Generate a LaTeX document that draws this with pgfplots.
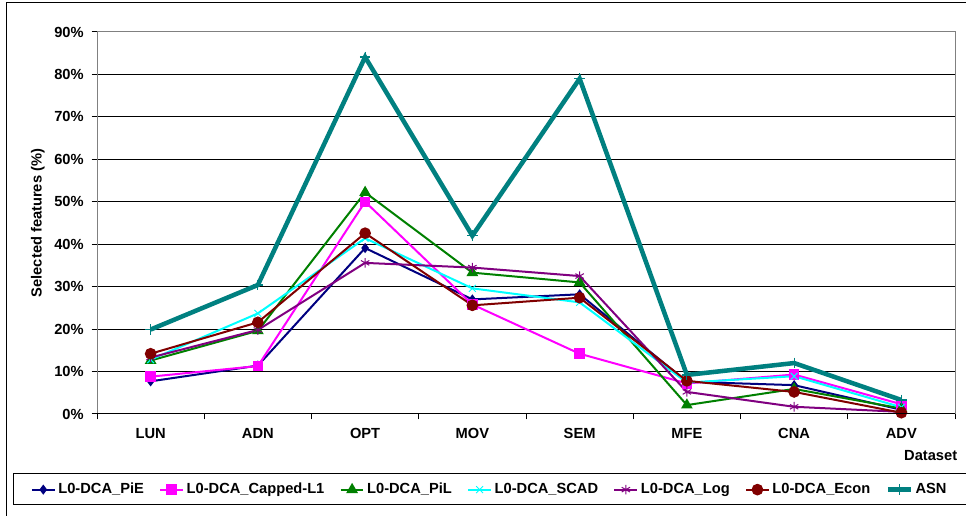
\documentclass[border=0pt]{standalone}
\usepackage{fontspec}
\setmainfont{Liberation Sans}
\usepackage{pgfplots}
\pgfplotsset{compat=1.18}
\definecolor{cPiE}{RGB}{0,0,128}
\definecolor{cCap}{RGB}{255,0,255}
\definecolor{cPiL}{RGB}{0,128,0}
\definecolor{cSCAD}{RGB}{0,255,255}
\definecolor{cLog}{RGB}{128,0,128}
\definecolor{cEcon}{RGB}{128,0,0}
\definecolor{cASN}{RGB}{0,128,128}

\begin{document}
\begin{tikzpicture}[font=\fontsize{11}{13}\selectfont\bfseries]
  \begin{axis}[
    at={(0,0)}, anchor=south west,
    scale only axis, width=643.5pt, height=286.5pt,
    xmin=0, xmax=8, ymin=0, ymax=90,
    xtick={0,...,8}, x tick label as interval,
    xticklabels={LUN,ADN,OPT,MOV,SEM,MFE,CNA,ADV},
    xticklabel style={yshift=-3.5pt},
    ytick={0,10,...,90},
    yticklabel={\pgfmathprintnumber[assume math mode=true]{\tick}\%},
    yticklabel style={xshift=-2.5pt},
    xtick pos=bottom, ytick pos=left,
    tick align=outside, major tick length=4pt,
    tick style={black, line width=0.75pt},
    axis line style={gray, line width=0.75pt},
    ymajorgrids, grid style={black, line width=0.75pt},
    ylabel={Selected features (\%)},
    ylabel style={at={(axis description cs:-0.069,0.5)}, anchor=center},
    xlabel={Dataset},
    xlabel style={at={(axis description cs:1.008,-0.108)}, anchor=east},
    legend columns=7,
    legend style={at={(axis description cs:-0.082,-0.198)}, anchor=west,
      draw=none, fill=none,
      /tikz/every even column/.append style={column sep=9.5pt}},
    every axis plot/.append style={line width=1.5pt},
  ]
  \addplot[cPiE, mark=diamond*, mark size=2.6pt] coordinates {
    (0.5,7.7)(1.5,11.4)(2.5,39.1)(3.5,27.0)(4.5,28.2)(5.5,7.6)(6.5,6.8)(7.5,1.0)};
  \addlegendentry{L0-DCA\_PiE}
  \addplot[cCap, mark=square*, mark size=3.2pt] coordinates {
    (0.5,8.8)(1.5,11.3)(2.5,50.0)(3.5,25.8)(4.5,14.2)(5.5,7.2)(6.5,9.3)(7.5,2.3)};
  \addlegendentry{L0-DCA\_Capped-L1}
  \addplot[cPiL, mark=triangle*, mark size=3.6pt] coordinates {
    (0.5,12.6)(1.5,19.6)(2.5,52.2)(3.5,33.3)(4.5,31.0)(5.5,2.1)(6.5,5.9)(7.5,1.3)};
  \addlegendentry{L0-DCA\_PiL}
  \addplot[cSCAD, mark=x, mark size=3.6pt, mark options={line width=0.75pt}] coordinates {
    (0.5,12.8)(1.5,23.7)(2.5,41.4)(3.5,29.6)(4.5,26.3)(5.5,7.4)(6.5,8.9)(7.5,1.6)};
  \addlegendentry{L0-DCA\_SCAD}
  \addplot[cLog, mark=asterisk, mark size=3.6pt, mark options={line width=0.75pt}] coordinates {
    (0.5,13.3)(1.5,19.8)(2.5,35.6)(3.5,34.5)(4.5,32.5)(5.5,5.2)(6.5,1.7)(7.5,0.5)};
  \addlegendentry{L0-DCA\_Log}
  \addplot[cEcon, mark=*, mark size=3.6pt] coordinates {
    (0.5,14.2)(1.5,21.6)(2.5,42.6)(3.5,25.6)(4.5,27.4)(5.5,7.8)(6.5,5.2)(7.5,0.3)};
  \addlegendentry{L0-DCA\_Econ}
  \addplot[cASN, line width=3.4pt, mark=+, mark size=4pt, mark options={line width=0.9pt}] coordinates {
    (0.5,19.9)(1.5,30.4)(2.5,84.1)(3.5,42.0)(4.5,79.0)(5.5,9.2)(6.5,12.0)(7.5,3.3)};
  \addlegendentry{ASN}
  \end{axis}
  \draw[black, line width=0.75pt] (0pt,0pt) -- (643.5pt,0pt);
  \draw[black, line width=0.75pt] (-62.25pt,-45pt) rectangle (700pt,-68.25pt);
  \draw[black, line width=0.75pt] (-67.5pt,-100pt) -- (-67.5pt,308.25pt) -- (700pt,308.25pt);
  \pgfresetboundingbox
  \path[use as bounding box] (-72.75pt,-76.5pt) rectangle (651.75pt,310.5pt);
\end{tikzpicture}
\end{document}
